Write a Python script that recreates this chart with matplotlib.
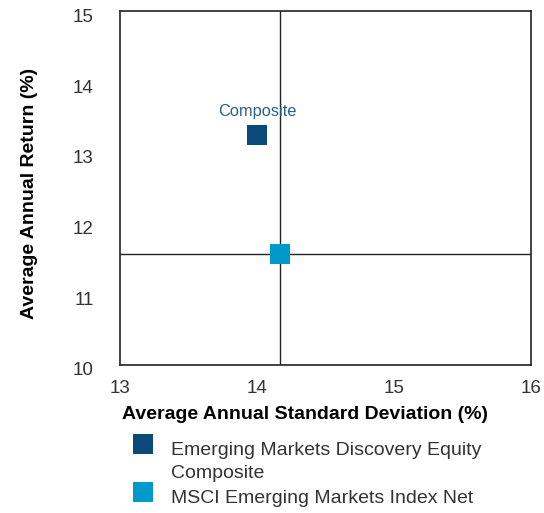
import matplotlib; matplotlib.use("Agg")
import matplotlib.pyplot as plt
from matplotlib.patches import Rectangle
from matplotlib.transforms import ScaledTranslation

plt.rcParams['font.family'] = ['Liberation Sans', 'DejaVu Sans']

names = ["Emerging Markets Discovery Equity\nComposite", "MSCI Emerging Markets Index Net"]
std_dev = [14.0, 14.17]
returns = [13.25, 11.57]
colors = ["#0a4a7a", "#0099cc"]
bench = 1  # index of benchmark for crosshair

fig = plt.figure(figsize=(5.44, 5.13), dpi=100)
ax = fig.add_axes([0.2206, 0.2885, 0.7549, 0.6895])
for x, y, c in zip(std_dev, returns, colors):
    ax.scatter(x, y, marker="s", s=205, color=c, zorder=3, linewidths=0)
ax.axvline(std_dev[bench], color="#222222", lw=1, zorder=2)
ax.axhline(returns[bench], color="#222222", lw=1, zorder=2)
ax.text(std_dev[0], returns[0] + 0.23, "Composite", ha="center", va="bottom",
        fontsize=11.8, color="#2a5f8a")

ax.set_xlim(13, 16); ax.set_ylim(10, 15)
ax.set_xticks([13, 14, 15, 16]); ax.set_yticks([10, 11, 12, 13, 14, 15])
ax.tick_params(length=0, labelsize=13.5, labelcolor="#333333")
ax.tick_params(axis="x", pad=11)
ax.tick_params(axis="y", pad=19)
shift = ScaledTranslation(0, -4 / 100, fig.dpi_scale_trans)
for lab in ax.get_yticklabels():
    lab.set_transform(lab.get_transform() + shift)
for sp in ax.spines.values():
    sp.set_color("#222222"); sp.set_linewidth(1.2)
ax.set_xlabel("Average Annual Standard Deviation (%)", fontsize=14, fontweight="bold")
ax.xaxis.set_label_coords(0.45, -0.115)
ax.set_ylabel("Average Annual Return (%)", fontsize=14, fontweight="bold")
ax.yaxis.set_label_coords(-0.2, 0.485)

# legend
leg_y = [444, 492]
for (n, c, ly) in zip(names, colors, leg_y):
    fig.patches.append(Rectangle((133 / 544, 1 - (ly + 10) / 513), 20 / 544, 20 / 513,
                                 transform=fig.transFigure, facecolor=c, edgecolor="none"))
    fig.text(171 / 544, 1 - (ly - 2) / 513, n, ha="left", va="top", fontsize=14,
             color="#333333", linespacing=1.45)

fig.savefig("out.png", dpi=100)
